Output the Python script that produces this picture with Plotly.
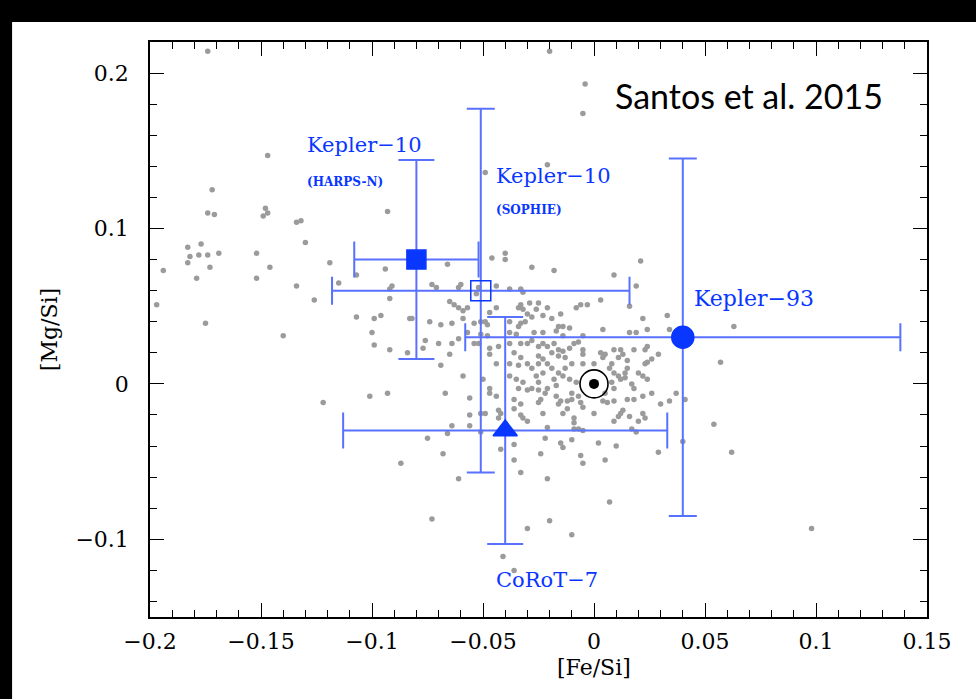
import plotly.graph_objects as go

# ---- comparison stars (gray) ----
gx = [-0.174, -0.147, -0.172, -0.174, -0.171, -0.148, -0.147, -0.149, -0.134, -0.132,
      -0.093, -0.183, -0.177, -0.182, -0.178, -0.174, -0.169, -0.152, -0.130, -0.194,
      -0.183, -0.173, -0.179, -0.152, -0.146, -0.119, -0.107, -0.094, -0.134, -0.115,
      -0.092, -0.091, -0.197, -0.126, -0.092, -0.175, -0.107, -0.099, -0.096, -0.140,
      -0.100, -0.099, -0.092, -0.084, -0.083, -0.101, -0.093, -0.122, -0.087,
      -0.066, -0.046, -0.040, -0.040, -0.028, -0.018, -0.073, -0.071, -0.061, -0.060,
      -0.052, -0.053, -0.044, -0.038, -0.033, -0.032, -0.065, -0.063, -0.061, -0.057,
      -0.059, -0.047, -0.044, -0.034, -0.033, -0.032, -0.029, -0.025, -0.026, -0.021,
      -0.030, -0.028, -0.031, -0.033, -0.034, -0.023, -0.019, -0.082, -0.059, -0.074,
      -0.069, -0.064, -0.054, -0.051, -0.048, -0.049, -0.038, -0.057, -0.051, -0.048,
      -0.038, -0.035, -0.027, -0.023, -0.016, -0.017, -0.076, -0.077, -0.070, -0.064,
      -0.061, -0.054, -0.052, -0.047, -0.043, -0.038, -0.033, -0.030, -0.028, -0.025,
      -0.023, -0.021, -0.018, -0.016, -0.019, -0.065, -0.047, -0.036, -0.033, -0.030,
      -0.038, -0.034, -0.025, -0.023, -0.021, -0.025, -0.028, -0.026, -0.023, -0.019,
      -0.016, -0.018, -0.069, -0.044, -0.059, -0.050, -0.038, -0.035, -0.032, -0.028,
      -0.025, -0.021, -0.017, -0.034, -0.030, -0.025, -0.022, -0.067, -0.047, -0.047,
      -0.044, -0.056, -0.036, -0.024, -0.017,
      0.021, 0.009, 0.019, 0.003, -0.008, -0.006, -0.003, 0.016, -0.015, 0.033,
      0.022, -0.014, -0.011, 0.004, 0.016, 0.019, 0.024, 0.034, -0.005, -0.014,
      -0.007, -0.009, -0.011, -0.014, -0.005, -0.005, 0.003, 0.005, 0.004, 0.009,
      0.012, 0.013, 0.011, 0.018, 0.023, 0.024, 0.029, 0.026, 0.024, 0.023,
      0.015, 0.008, 0.007, 0.009, 0.011, 0.000, -0.005, -0.010, -0.013, -0.014,
      -0.011, -0.008, 0.015, 0.014, 0.014, 0.012, 0.020, 0.022, 0.024, 0.008,
      0.009, 0.017, 0.018, 0.005, 0.009, 0.022, 0.026, 0.037, 0.034, 0.015,
      0.018, -0.010, -0.007, -0.015, -0.012, -0.006, 0.041, -0.016, -0.013,
      -0.051, -0.049, -0.043, -0.042, -0.056, -0.056, -0.064, -0.043, -0.036, -0.033,
      -0.033, -0.032, -0.030, -0.025, -0.023, -0.016, -0.010, -0.014, -0.012, -0.009,
      -0.009, -0.005, -0.009, -0.007, -0.005, -0.021, 0.004, 0.006, 0.000, 0.009,
      0.011, 0.012, 0.013, 0.016, 0.020, 0.022, 0.023, 0.017, 0.019, 0.030,
      0.054, -0.075, -0.066, -0.051, -0.022, -0.036, -0.015, -0.014, -0.010, 0.002,
      0.010, 0.040, 0.029, -0.068, -0.042, -0.024, -0.006, 0.005, -0.036, -0.005,
      -0.033, -0.061, -0.021, 0.007, -0.073, -0.020, -0.030, -0.010, -0.041, -0.036,
      -0.020, -0.004, 0.061, -0.005, -0.021, -0.049, 0.063, 0.057, 0.062, 0.098]
gy = [0.214, 0.147, 0.125, 0.110, 0.109, 0.113, 0.110, 0.108, 0.104, 0.105,
      0.111, 0.088, 0.090, 0.082, 0.083, 0.083, 0.084, 0.084, 0.091, 0.073,
      0.078, 0.075, 0.068, 0.068, 0.075, 0.078, 0.070, 0.074, 0.063, 0.065,
      0.061, 0.063, 0.051, 0.054, 0.055, 0.039, 0.043, 0.042, 0.044, 0.031,
      0.033, 0.025, 0.022, 0.020, 0.042, -0.008, -0.006, -0.012, -0.051,
      0.077, 0.081, 0.084, 0.080, 0.075, 0.073, 0.064, 0.062, 0.062, 0.064,
      0.062, 0.058, 0.063, 0.061, 0.061, 0.059, 0.053, 0.051, 0.049, 0.049,
      0.047, 0.046, 0.049, 0.049, 0.051, 0.048, 0.052, 0.052, 0.048, 0.049,
      0.045, 0.043, 0.040, 0.039, 0.037, 0.044, 0.042, 0.042, 0.042, 0.040,
      0.038, 0.039, 0.039, 0.040, 0.038, 0.040, 0.040, 0.033, 0.032, 0.031,
      0.033, 0.032, 0.033, 0.033, 0.037, 0.034, 0.028, 0.023, 0.026, 0.026,
      0.029, 0.026, 0.026, 0.023, 0.024, 0.026, 0.026, 0.026, 0.028, 0.024,
      0.026, 0.024, 0.026, 0.022, 0.020, 0.019, 0.019, 0.020, 0.017, 0.013,
      0.013, 0.012, 0.018, 0.016, 0.013, 0.013, 0.010, 0.005, 0.007, 0.010,
      0.007, 0.003, 0.012, 0.013, 0.005, 0.003, 0.005, 0.003, 0.001, -0.003,
      0.001, -0.003, -0.001, -0.003, -0.004, -0.004, -0.006, -0.006, -0.003, -0.006,
      -0.008, -0.009, -0.010, -0.010, -0.008,
      0.079, 0.070, 0.063, 0.054, 0.049, 0.051, 0.051, 0.050, 0.045, 0.044,
      0.042, 0.037, 0.036, 0.035, 0.033, 0.033, 0.035, 0.035, 0.031, 0.031,
      0.027, 0.026, 0.023, 0.021, 0.022, 0.019, 0.020, 0.019, 0.017, 0.022,
      0.022, 0.019, 0.017, 0.022, 0.022, 0.024, 0.019, 0.016, 0.014, 0.013,
      0.015, 0.013, 0.010, 0.007, 0.005, 0.013, 0.013, 0.013, 0.010, 0.005,
      0.003, 0.001, 0.010, 0.007, 0.004, 0.003, 0.007, 0.005, 0.003, 0.001,
      -0.003, 0.000, -0.003, -0.006, -0.011, -0.008, -0.006, -0.006, -0.011, -0.010,
      -0.010, -0.006, -0.008, -0.011, -0.011, -0.012, -0.010, 0.018, 0.017,
      -0.019, -0.019, -0.017, -0.019, -0.020, -0.027, -0.027, -0.022, -0.016, -0.013,
      -0.020, -0.022, -0.024, -0.012, -0.019, -0.013, -0.010, -0.019, -0.016, -0.022,
      -0.025, -0.015, -0.029, -0.029, -0.030, -0.028, -0.011, -0.012, -0.019, -0.024,
      -0.021, -0.019, -0.017, -0.021, -0.024, -0.019, -0.022, -0.029, -0.031, -0.013,
      -0.026, -0.035, -0.032, -0.031, -0.035, -0.039, -0.038, -0.041, -0.036, -0.038,
      -0.040, -0.037, -0.044, -0.045, -0.042, -0.045, -0.046, -0.049, -0.049, -0.051,
      -0.057, -0.061, -0.061, -0.076, -0.087, -0.088, -0.093, -0.097, -0.111, -0.120,
      0.214, 0.193, 0.183, 0.174, 0.141, 0.136, 0.037, 0.014, -0.044, -0.093]

# ---- planet hosts ----
host_names = ["Kepler-10 (HARPS-N)", "Kepler-10 (SOPHIE)", "Kepler-93", "CoRoT-7"]
host_fesi = [-0.080, -0.051, 0.040, -0.040]
host_mgsi = [0.080, 0.060, 0.030, -0.030]
host_fesi_err = [0.028, 0.067, 0.098, 0.073]
host_mgsi_err = [0.064, 0.117, 0.115, 0.073]
host_symbols = ["square", "square-open", "circle", "triangle-up"]
host_sizes = [19, 20, 22, 21]
host_caps = [18, 14, 14, 18]

sun_fesi = [0.0]
sun_mgsi = [0.0]

BLUE = "#0a37ff"
ERR = "#5872ff"

fig = go.Figure()

fig.add_trace(go.Scatter(
    x=gx, y=gy, mode="markers",
    marker=dict(size=5.5, color="#9b9b9b"),
    showlegend=False, hoverinfo="skip"))

for i in range(len(host_names)):
    fig.add_trace(go.Scatter(
        x=[host_fesi[i]], y=[host_mgsi[i]], mode="markers", name=host_names[i],
        marker=dict(symbol=host_symbols[i], size=host_sizes[i], color=BLUE,
                    line=dict(color=BLUE, width=1.5)),
        error_x=dict(type="data", array=[host_fesi_err[i]], color=ERR,
                     thickness=2, width=host_caps[i]),
        error_y=dict(type="data", array=[host_mgsi_err[i]], color=ERR,
                     thickness=2, width=host_caps[i]),
        showlegend=False))

# Sun symbol
fig.add_trace(go.Scatter(x=sun_fesi, y=sun_mgsi, mode="markers",
                         marker=dict(symbol="circle-open", size=28, color="black",
                                     line=dict(color="black", width=1.6)),
                         showlegend=False))
fig.add_trace(go.Scatter(x=sun_fesi, y=sun_mgsi, mode="markers",
                         marker=dict(symbol="circle", size=10, color="black"),
                         showlegend=False))

SERIF = "DejaVu Serif"
labels = [
    ("Kepler\u221210", -0.130, 0.154, 21, False),
    ("(HARPS-N)", -0.130, 0.130, 12, True),
    ("Kepler\u221210", -0.045, 0.134, 21, False),
    ("(SOPHIE)", -0.045, 0.112, 12, True),
    ("Kepler\u221293", 0.044, 0.055, 22, False),
    ("CoRoT\u22127", -0.045, -0.126, 21, False),
]
for txt, lx, ly, fs, bold in labels:
    fig.add_annotation(x=lx, y=ly, text=("<b>%s</b>" % txt) if bold else txt,
                       showarrow=False, xanchor="left", yanchor="middle",
                       font=dict(family=SERIF, size=fs, color=BLUE))

fig.add_annotation(x=0.0085, y=0.1855, text="Santos et al. 2015", showarrow=False,
                   xanchor="left", yanchor="middle",
                   font=dict(family="Lato", size=34, color="black"))

# x-axis title, centred under Fe/Si = 0 as in the original
fig.add_annotation(x=0.0, xref="x", y=-0.063, yref="paper", text="[Fe/Si]",
                   showarrow=False, xanchor="center", yanchor="top",
                   font=dict(family=SERIF, size=22, color="black"))

axis_common = dict(
    showgrid=False, zeroline=False, showline=True, linecolor="black", linewidth=1.5,
    mirror="allticks", ticks="inside", ticklen=14, tickwidth=1.2, tickcolor="black",
    tickfont=dict(family=SERIF, size=22, color="black"),
)
fig.update_xaxes(range=[-0.2, 0.15], dtick=0.05, tick0=0, ticklabelstandoff=4,
                 minor=dict(dtick=0.01, ticks="inside", ticklen=7, tickcolor="black", tickwidth=1.2),
                 **axis_common)
fig.update_yaxes(range=[-0.15, 0.22], dtick=0.1, tick0=0, ticklabelstandoff=15,
                 minor=dict(dtick=0.02, ticks="inside", ticklen=7, tickcolor="black", tickwidth=1.2),
                 title=dict(text="[Mg/Si]", font=dict(family=SERIF, size=22, color="black"), standoff=12),
                 **axis_common)

# black frame of the original slide (top and left edges)
fig.add_shape(type="rect", xref="paper", yref="paper", x0=-0.25, x1=-0.1775,
              y0=-0.3, y1=1.2, fillcolor="black", line=dict(width=0), layer="above")
fig.add_shape(type="rect", xref="paper", yref="paper", x0=-0.25, x1=1.2,
              y0=1.035, y1=1.2, fillcolor="black", line=dict(width=0), layer="above")

fig.update_layout(
    width=976, height=699,
    margin=dict(l=150, r=49, t=42, b=82),
    paper_bgcolor="white", plot_bgcolor="white",
    showlegend=False,
)

fig.write_html("out.html",
               post_script="document.body.style.margin='0';document.body.style.overflow='hidden';")
